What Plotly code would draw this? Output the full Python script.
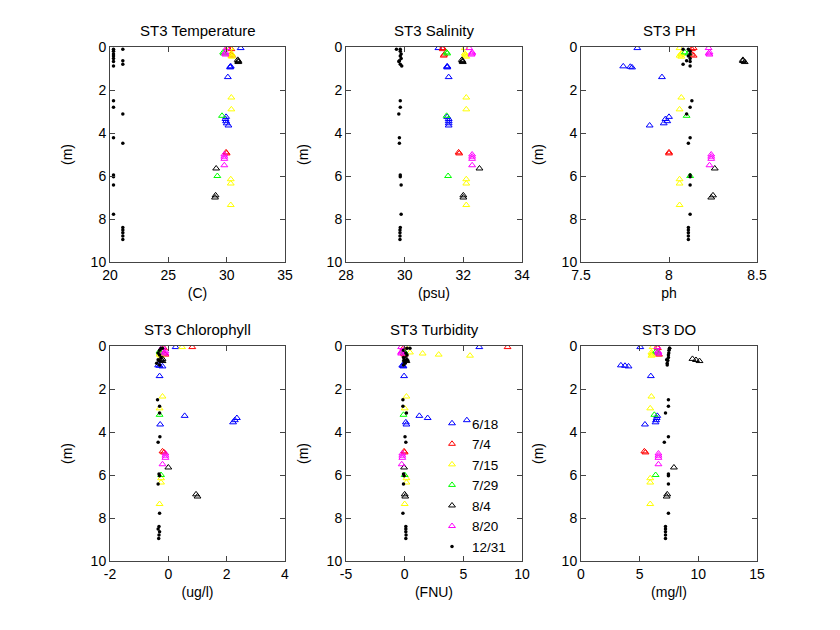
import plotly.graph_objects as go

# ---------------- data ----------------
dates = ["6/18", "7/4", "7/15", "7/29", "8/4", "8/20", "12/31"]
colors = ["#0000ff", "#ff0000", "#ffff00", "#00ff00", "#000000", "#ff00ff", "#000000"]

depth_0618 = [0.05, 0.9, 0.92, 0.95, 1.4, 3.25, 3.35, 3.45, 3.55, 3.65]
temp_0618 = [31.2, 30.35, 30.3, 30.3, 30.1, 29.95, 29.9, 29.95, 30.0, 30.15]
sal_0618 = [31.15, 31.45, 31.45, 31.45, 31.5, 31.45, 31.5, 31.5, 31.5, 31.5]
ph_0618 = [7.82, 7.74, 7.78, 7.79, 7.96, 8.0, 7.98, 7.99, 7.97, 7.89]
chl_0618 = [0.25, -0.35, -0.3, -0.2, -0.3, 0.56, 2.35, 2.28, 2.22, -0.28]
turb_0618 = [6.36, -0.2, -0.15, -0.1, -0.05, 1.25, 1.96, 5.3, 0.1, 0.15]
do_0618 = [5.05, 3.4, 3.75, 4.05, 5.95, 6.5, 6.45, 6.4, 6.35, 5.45]

depth_0704 = [0.05, 0.1, 0.35, 0.4, 4.9, 4.95]
temp_0704 = [30.1, 30.4, 30.4, 30.45, 29.95, 30.0]
sal_0704 = [31.3, 31.3, 31.35, 31.33, 31.84, 31.86]
ph_0704 = [8.14, 8.13, 8.13, 8.14, 8.0, 8.0]
chl_0704 = [0.82, -0.15, -0.15, -0.1, -0.2, -0.15]
turb_0704 = [8.77, -0.1, -0.1, 0.0, -0.05, 0.0]
do_0704 = [6.5, 6.55, 6.6, 6.65, 5.4, 5.5]

depth_0715 = [0.05, 0.3, 0.35, 0.4, 0.45, 2.35, 2.9, 6.15, 6.35, 7.35]
temp_0715 = [30.3, 30.4, 30.45, 30.4, 30.45, 30.4, 30.4, 30.35, 30.35, 30.35]
sal_0715 = [32.05, 32.05, 32.07, 32.07, 32.1, 32.1, 32.1, 32.1, 32.1, 32.1]
ph_0715 = [8.06, 8.07, 8.07, 8.06, 8.07, 8.07, 8.06, 8.06, 8.06, 8.06]
chl_0715 = [0.47, -0.3, -0.28, -0.3, -0.25, -0.2, -0.3, -0.25, -0.25, -0.3]
turb_0715 = [0.1, 0.45, 1.53, 2.9, 5.57, 0.15, 0.0, 0.15, 0.15, 0.0]
do_0715 = [6.1, 6.0, 6.05, 6.1, 6.0, 6.0, 5.9, 5.9, 5.9, 5.9]

depth_0729 = [0.25, 0.3, 3.2, 6.0]
temp_0729 = [29.7, 29.75, 29.6, 29.2]
sal_0729 = [31.43, 31.45, 31.43, 31.48]
ph_0729 = [8.09, 8.11, 8.1, 8.12]
chl_0729 = [-0.3, -0.28, -0.3, -0.25]
turb_0729 = [-0.05, 0.0, -0.1, 0.0]
do_0729 = [6.4, 6.5, 6.25, 6.36]

depth_0804 = [0.6, 0.65, 0.7, 5.65, 6.9, 7.0]
temp_0804 = [30.95, 31.0, 31.0, 29.1, 29.05, 29.0]
sal_0804 = [31.95, 31.97, 31.98, 32.55, 32.0, 32.0]
ph_0804 = [8.42, 8.42, 8.43, 8.26, 8.25, 8.24]
chl_0804 = [-0.2, -0.25, -0.2, 0.0, 0.95, 1.0]
turb_0804 = [0.1, 0.1, 0.15, -0.05, 0.0, 0.05]
do_0804 = [9.5, 9.8, 10.1, 7.92, 7.35, 7.3]

depth_0820 = [0.05, 0.25, 0.3, 0.35, 5.0, 5.1, 5.2, 5.5]
temp_0820 = [30.0, 29.9, 29.85, 29.9, 29.8, 29.8, 29.8, 29.8]
sal_0820 = [32.2, 32.3, 32.3, 32.28, 32.3, 32.3, 32.3, 32.3]
ph_0820 = [8.225, 8.23, 8.225, 8.23, 8.24, 8.24, 8.24, 8.23]
chl_0820 = [-0.2, -0.1, -0.15, -0.1, -0.1, -0.1, -0.1, -0.2]
turb_0820 = [-0.3, -0.25, -0.3, -0.3, -0.2, -0.2, -0.2, -0.25]
do_0820 = [6.5, 6.55, 6.6, 6.6, 6.6, 6.6, 6.6, 6.6]

depth_1231 = [0.1, 0.1, 0.2, 0.33, 0.42, 0.53, 0.64, 0.68, 0.8, 0.88, 2.5, 2.8,
              3.12, 4.22, 4.48, 5.95, 6.03, 6.42, 7.78, 8.39, 8.51, 8.64, 8.79, 8.95]
temp_1231 = [20.3, 21.1, 20.3, 20.3, 20.3, 20.3, 21.1, 20.3, 21.1, 20.3, 20.3, 20.3,
             21.1, 20.3, 21.1, 20.3, 20.3, 20.3, 20.3, 21.1, 21.1, 21.1, 21.1, 21.1]
sal_1231 = [29.72, 29.85, 29.85, 29.88, 29.85, 29.88, 29.82, 29.8, 29.85, 29.9, 29.85, 29.85,
            29.8, 29.82, 29.82, 29.85, 29.85, 29.88, 29.88, 29.85, 29.84, 29.84, 29.84, 29.84]
ph_1231 = [8.08, 8.11, 8.12, 8.12, 8.11, 8.12, 8.1, 8.12, 8.08, 8.12, 8.13, 8.12,
           8.1, 8.12, 8.11, 8.12, 8.12, 8.12, 8.12, 8.11, 8.11, 8.11, 8.11, 8.11]
chl_1231 = [-0.25, -0.2, -0.3, -0.35, -0.3, -0.25, -0.35, -0.3, -0.4, -0.3, -0.37, -0.3,
            -0.3, -0.29, -0.35, -0.32, -0.3, -0.35, -0.3, -0.32, -0.35, -0.3, -0.32, -0.33]
turb_1231 = [0.45, 0.2, -0.1, 0.1, 0.2, -0.1, 0.15, -0.05, 0.05, -0.1, -0.15, -0.15,
             0.15, 0.03, 0.1, -0.1, -0.05, -0.1, -0.15, 0.1, 0.1, 0.1, 0.12, 0.1]
do_1231 = [7.55, 7.55, 7.5, 7.48, 7.45, 7.45, 7.3, 7.4, 7.35, 7.35, 7.45, 7.45,
           7.2, 7.45, 7.1, 7.45, 7.45, 7.45, 7.45, 7.2, 7.2, 7.2, 7.2, 7.2]

depths = [depth_0618, depth_0704, depth_0715, depth_0729, depth_0804, depth_0820, depth_1231]
variables = {
    "temp": [temp_0618, temp_0704, temp_0715, temp_0729, temp_0804, temp_0820, temp_1231],
    "sal": [sal_0618, sal_0704, sal_0715, sal_0729, sal_0804, sal_0820, sal_1231],
    "ph": [ph_0618, ph_0704, ph_0715, ph_0729, ph_0804, ph_0820, ph_1231],
    "chl": [chl_0618, chl_0704, chl_0715, chl_0729, chl_0804, chl_0820, chl_1231],
    "turb": [turb_0618, turb_0704, turb_0715, turb_0729, turb_0804, turb_0820, turb_1231],
    "do": [do_0618, do_0704, do_0715, do_0729, do_0804, do_0820, do_1231],
}

panel_keys = ["temp", "sal", "ph", "chl", "turb", "do"]
panel_titles = ["ST3 Temperature", "ST3 Salinity", "ST3 PH",
                "ST3 Chlorophyll", "ST3 Turbidity", "ST3 DO"]
x_titles = ["(C)", "(psu)", "ph", "(ug/l)", "(FNU)", "(mg/l)"]
x_ranges = [[20, 35], [28, 34], [7.5, 8.5], [-2, 4], [-5, 10], [0, 15]]
x_ticks = [[20, 25, 30, 35], [28, 30, 32, 34], [7.5, 8, 8.5],
           [-2, 0, 2, 4], [-5, 0, 5, 10], [0, 5, 10, 15]]
x_ticktext = [["20", "25", "30", "35"], ["28", "30", "32", "34"], ["7.5", "8", "8.5"],
              ["-2", "0", "2", "4"], ["-5", "0", "5", "10"], ["0", "5", "10", "15"]]
y_ticks = [0, 2, 4, 6, 8, 10]

# ---------------- layout geometry ----------------
# page body adds an 8 px offset, so the figure is 16 px smaller than the window
OFF = 8
W, H = 840 - 2 * OFF, 630 - 2 * OFF
col_px = [(110 - OFF, 285 - OFF), (346 - OFF, 522 - OFF), (581 - OFF, 757 - OFF)]
row_px = [(47 - OFF, 262 - OFF), (346 - OFF, 561 - OFF)]
FONT = "Liberation Sans, Arial, Helvetica, sans-serif"

fig = go.Figure()
layout = dict(
    width=W, height=H,
    margin=dict(l=0, r=0, t=0, b=0, autoexpand=False),
    paper_bgcolor="white", plot_bgcolor="white",
    font=dict(family=FONT, size=14, color="black"),
    showlegend=True,
    legend=dict(x=(432 - OFF) / W, y=1 - (408 - OFF) / H, xanchor="left", yanchor="top",
                bgcolor="rgba(0,0,0,0)", borderwidth=0,
                font=dict(family=FONT, size=13.5, color="black"),
                tracegroupgap=0, itemwidth=30),
    annotations=[],
)

for p, key in enumerate(panel_keys):
    r, c = divmod(p, 3)
    idx = "" if p == 0 else str(p + 1)
    xa, ya = "xaxis" + idx, "yaxis" + idx
    x0, x1 = col_px[c]
    y0, y1 = row_px[r]
    common = dict(showgrid=False, zeroline=False, showline=True, linecolor="#444444",
                  linewidth=1, mirror="ticks", ticks="inside", ticklen=5,
                  tickcolor="#444444", automargin=False,
                  tickfont=dict(family=FONT, size=14, color="black"))
    layout[xa] = dict(domain=[x0 / W, x1 / W], anchor="y" + idx, range=x_ranges[p],
                      tickvals=x_ticks[p], ticktext=x_ticktext[p],
                      title=dict(text=x_titles[p], standoff=6,
                                 font=dict(family=FONT, size=14, color="black")),
                      **common)
    layout[ya] = dict(domain=[1 - y1 / H, 1 - y0 / H], anchor="x" + idx, range=[10, 0],
                      tickvals=y_ticks, ticktext=[str(v) for v in y_ticks],
                      title=dict(text="(m)", standoff=14,
                                 font=dict(family=FONT, size=14, color="black")),
                      **common)
    layout["annotations"].append(dict(
        text=panel_titles[p], x=(x0 + x1) / 2 / W, y=1 - (y0 - 6) / H,
        xref="paper", yref="paper", xanchor="center", yanchor="bottom",
        showarrow=False, font=dict(family=FONT, size=15, color="black")))

    for i, d in enumerate(dates):
        is_dot = d == "12/31"
        marker = dict(symbol="circle" if is_dot else "triangle-up-open",
                      size=3.5 if is_dot else 6, color=colors[i],
                      line=dict(width=1 if not is_dot else 0, color=colors[i]))
        fig.add_trace(go.Scatter(
            x=variables[key][i], y=depths[i], mode="markers", name=d,
            marker=marker, showlegend=(key == "turb"), legendgroup=d,
            xaxis="x" + idx, yaxis="y" + idx))

fig.update_layout(**layout)
fig.write_html("out.html")
